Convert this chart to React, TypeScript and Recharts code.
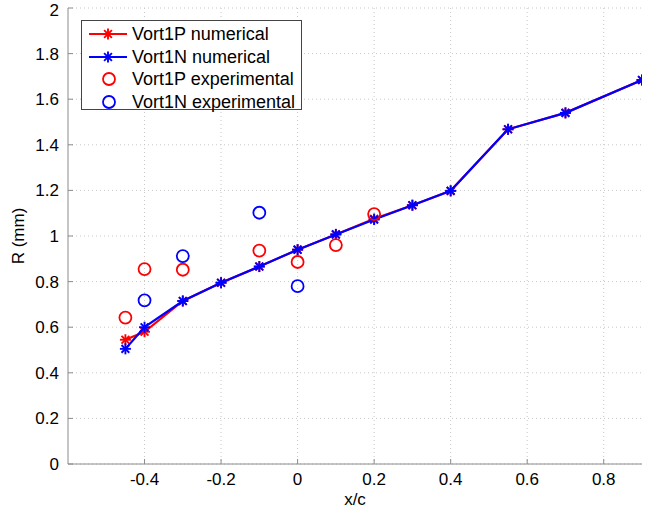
import React from 'react';
import { ScatterChart, Scatter, XAxis, YAxis, CartesianGrid, Legend } from 'recharts';

// numerical results (both vortices share the x/c stations)
const numX = [-0.45, -0.4, -0.3, -0.2, -0.1, 0, 0.1, 0.2, 0.3, 0.4, 0.55, 0.7, 0.9];
const vort1PNum = [0.545, 0.58, 0.715, 0.795, 0.866, 0.94, 1.007, 1.075, 1.135, 1.198, 1.468, 1.54, 1.684];
const vort1NNum = [0.505, 0.6, 0.715, 0.795, 0.866, 0.94, 1.007, 1.072, 1.135, 1.198, 1.468, 1.54, 1.684];

// experimental results
const vort1PExpX = [-0.45, -0.4, -0.3, -0.1, 0, 0.1, 0.2];
const vort1PExp = [0.642, 0.855, 0.852, 0.936, 0.886, 0.96, 1.096];
const vort1NExpX = [-0.4, -0.3, -0.1, 0];
const vort1NExp = [0.718, 0.912, 1.102, 0.78];

const xTicks = [-0.4, -0.2, 0, 0.2, 0.4, 0.6, 0.8];
const yTicks = [0, 0.2, 0.4, 0.6, 0.8, 1, 1.2, 1.4, 1.6, 1.8, 2];

const RED = '#ff0000';
const BLUE = '#0000ff';
const AXIS = '#8c8c8c';
const FONT = '"Liberation Sans", Arial, sans-serif';

const zip = (xs: number[], ys: number[]) => xs.map((x, i) => ({ x, y: ys[i] }));

const fmt = (v: number) => {
  const s = String(Number(v.toFixed(1)));
  return s === '-0' ? '0' : s;
};

const star = (color: string) => (props: any) => {
  const { cx, cy } = props;
  if (cx == null || cy == null) return <g />;
  const r = 5.5;
  const d = 3.9;
  return (
    <g stroke={color} strokeWidth={1.9}>
      <line x1={cx - r} y1={cy} x2={cx + r} y2={cy} />
      <line x1={cx} y1={cy - r} x2={cx} y2={cy + r} />
      <line x1={cx - d} y1={cy - d} x2={cx + d} y2={cy + d} />
      <line x1={cx - d} y1={cy + d} x2={cx + d} y2={cy - d} />
    </g>
  );
};

const ring = (color: string) => (props: any) => {
  const { cx, cy } = props;
  if (cx == null || cy == null) return <g />;
  return <circle cx={cx} cy={cy} r={6} fill="none" stroke={color} strokeWidth={1.8} />;
};

const legendItems = [
  { label: 'Vort1P numerical', color: RED, line: true },
  { label: 'Vort1N numerical', color: BLUE, line: true },
  { label: 'Vort1P experimental', color: RED, line: false },
  { label: 'Vort1N experimental', color: BLUE, line: false },
];

function LegendBox() {
  return (
    <div
      style={{
        width: 221,
        height: 90,
        boxSizing: 'border-box',
        border: '1px solid #444',
        background: '#fff',
        paddingTop: 2,
        fontFamily: FONT,
        fontSize: 18,
        color: '#000',
      }}
    >
      {legendItems.map((it) => (
        <div key={it.label} style={{ display: 'flex', alignItems: 'center', height: 22.5 }}>
          <svg width={50} height={22} style={{ flex: 'none' }}>
            {it.line ? (
              <>
                <line x1={7} y1={11} x2={45} y2={11} stroke={it.color} strokeWidth={2.2} />
                {star(it.color)({ cx: 26, cy: 11 })}
              </>
            ) : (
              ring(it.color)({ cx: 27, cy: 11 })
            )}
          </svg>
          <span style={{ whiteSpace: 'nowrap', lineHeight: '22px' }}>{it.label}</span>
        </div>
      ))}
    </div>
  );
}

export default function App() {
  const tickStyle = { fontSize: 17, fill: '#000', fontFamily: FONT };
  return (
    <div style={{ position: 'absolute', left: 0, top: 0, width: 655, height: 515, background: '#fff' }}>
      <ScatterChart width={655} height={515} margin={{ top: 8, right: 13, left: 0, bottom: 0 }}>
        <CartesianGrid
          stroke="#c8c8c8"
          strokeDasharray="1 3"
          horizontalValues={yTicks}
          verticalValues={xTicks}
        />
        <XAxis
          type="number"
          dataKey="x"
          domain={[-0.6, 0.9]}
          ticks={xTicks}
          allowDataOverflow
          height={51}
          tickFormatter={fmt}
          tick={tickStyle}
          tickSize={-5}
          tickMargin={14}
          stroke={AXIS}
          label={{ value: 'x/c', position: 'insideBottom', offset: 10, style: { fontSize: 17, fill: '#000', fontFamily: FONT } }}
        />
        <XAxis
          xAxisId="top"
          orientation="top"
          type="number"
          domain={[-0.6, 0.9]}
          ticks={xTicks}
          allowDataOverflow
          height={0}
          tickFormatter={() => ''}
          tickSize={-5}
          stroke={AXIS}
        />
        <YAxis
          type="number"
          dataKey="y"
          domain={[0, 2]}
          ticks={yTicks}
          allowDataOverflow
          width={68}
          tickFormatter={fmt}
          tick={tickStyle}
          tickSize={-5}
          tickMargin={14}
          stroke={AXIS}
          label={{
            value: 'R (mm)',
            angle: -90,
            position: 'insideLeft',
            offset: 18,
            style: { fontSize: 17, fill: '#000', fontFamily: FONT, textAnchor: 'middle' },
          }}
        />
        <YAxis
          yAxisId="right"
          orientation="right"
          type="number"
          domain={[0, 2]}
          ticks={yTicks}
          allowDataOverflow
          width={0}
          tickFormatter={() => ''}
          tickSize={-5}
          stroke={AXIS}
        />
        <Legend
          layout="horizontal"
          verticalAlign="middle"
          align="center"
          wrapperStyle={{ left: 81, top: 20, width: 221, height: 90 }}
          content={() => <LegendBox />}
        />
        <Scatter
          name="Vort1P numerical"
          data={zip(numX, vort1PNum)}
          line={{ stroke: RED, strokeWidth: 2.2 }}
          lineType="joint"
          shape={star(RED)}
          fill={RED}
          isAnimationActive={false}
        />
        <Scatter
          name="Vort1N numerical"
          data={zip(numX, vort1NNum)}
          line={{ stroke: BLUE, strokeWidth: 2.2 }}
          lineType="joint"
          shape={star(BLUE)}
          fill={BLUE}
          isAnimationActive={false}
        />
        <Scatter
          name="Vort1P experimental"
          data={zip(vort1PExpX, vort1PExp)}
          shape={ring(RED)}
          fill={RED}
          isAnimationActive={false}
        />
        <Scatter
          name="Vort1N experimental"
          data={zip(vort1NExpX, vort1NExp)}
          shape={ring(BLUE)}
          fill={BLUE}
          isAnimationActive={false}
        />
      </ScatterChart>
    </div>
  );
}
